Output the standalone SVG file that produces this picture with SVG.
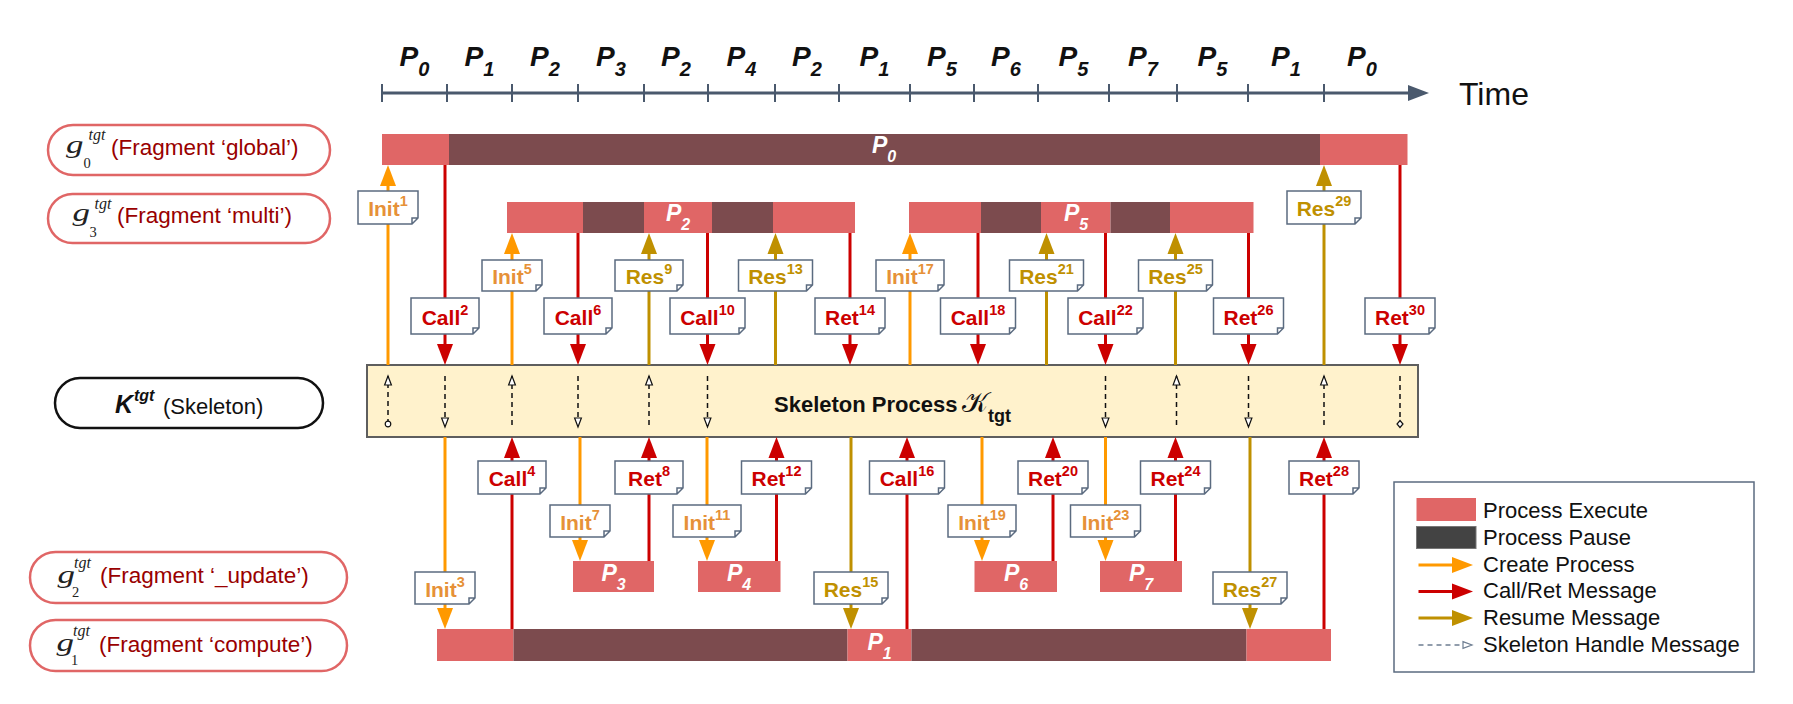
<svg xmlns="http://www.w3.org/2000/svg" width="1793" height="704" viewBox="0 0 1793 704">
<defs>
<style>
text{font-family:"Liberation Sans",Arial,Helvetica,sans-serif}
.exec{fill:#e06666}
.pause{fill:#7c4b4e}
.axis{stroke:#4a596d;stroke-width:3;fill:none}
.tick{stroke:#4a596d;stroke-width:2}
.ptime{font-size:28px;font-weight:bold;font-style:italic;fill:#111;text-anchor:middle}
.ptime .s{font-size:20px}
.pbar{font-size:23px;font-weight:bold;font-style:italic;fill:#fff;text-anchor:middle}
.pbar .s{font-size:16px}
.pill-g{fill:#fff;stroke:#e06666;stroke-width:2.5}
.pill-k{fill:#fff;stroke:#111;stroke-width:2.5}
.gsym{font-family:"Liberation Serif","DejaVu Serif",serif;font-style:italic;fill:#222}
.gsub{font-family:"Liberation Serif","DejaVu Serif",serif;fill:#222}
.frag{font-size:22.5px;fill:#990000}
.skel{fill:#fff2cc;stroke:#5e5e5e;stroke-width:2}
.lbox{fill:#fff;stroke:#5b6b80;stroke-width:1.5}
.lbl{font-size:21px;font-weight:bold;text-anchor:middle}
.lbl .s{font-size:14.5px}
.c-init{fill:#e69138}.c-call{fill:#cc0000}.c-res{fill:#bf9000}
.l-init{stroke:#ff9900;stroke-width:3;fill:none;marker-end:url(#mk-init)}
.l-call{stroke:#cc0000;stroke-width:3;fill:none;marker-end:url(#mk-call)}
.l-res{stroke:#bf9000;stroke-width:3;fill:none;marker-end:url(#mk-res)}
.dash{stroke:#111;stroke-width:1.5;stroke-dasharray:5 4;fill:none}
.leg{font-size:22px;fill:#111}
</style>
<marker id="mk-init" markerUnits="userSpaceOnUse" markerWidth="21" markerHeight="16" refX="0" refY="8" orient="auto" overflow="visible"><path d="M0,0 L21,8 L0,16 Z" fill="#ff9900"/></marker>
<marker id="mk-call" markerUnits="userSpaceOnUse" markerWidth="21" markerHeight="16" refX="0" refY="8" orient="auto" overflow="visible"><path d="M0,0 L21,8 L0,16 Z" fill="#cc0000"/></marker>
<marker id="mk-res" markerUnits="userSpaceOnUse" markerWidth="21" markerHeight="16" refX="0" refY="8" orient="auto" overflow="visible"><path d="M0,0 L21,8 L0,16 Z" fill="#bf9000"/></marker>
<marker id="mk-open" markerUnits="userSpaceOnUse" markerWidth="10" markerHeight="8" refX="9" refY="4" orient="auto" overflow="visible"><path d="M0,0.6 L9,4 L0,7.4 Z" fill="#fff" stroke="#111" stroke-width="1.2"/></marker>
<marker id="mk-dot" markerUnits="userSpaceOnUse" markerWidth="8" markerHeight="8" refX="4" refY="4" overflow="visible"><circle cx="4" cy="4" r="2.8" fill="#fff" stroke="#111" stroke-width="1.2"/></marker>
<marker id="mk-dia" markerUnits="userSpaceOnUse" markerWidth="8" markerHeight="8" refX="4" refY="4" overflow="visible"><path d="M4,0.5 L7,4 L4,7.5 L1,4 Z" fill="#fff" stroke="#111" stroke-width="1.2"/></marker>
<marker id="mk-open-leg" markerUnits="userSpaceOnUse" markerWidth="10" markerHeight="8" refX="9" refY="4" orient="auto" overflow="visible"><path d="M0,0.6 L9,4 L0,7.4 Z" fill="#fff" stroke="#6d7d91" stroke-width="1.2"/></marker>
</defs>

<!-- Time axis -->
<g id="time-axis">
<line class="axis" x1="382" y1="93" x2="1411" y2="93"/>
<polygon points="1408,85 1429,93 1408,101" fill="#4a596d"/>
<g class="tick">
<line x1="382" y1="84" x2="382" y2="102"/><line x1="447" y1="84" x2="447" y2="102"/><line x1="512" y1="84" x2="512" y2="102"/>
<line x1="578" y1="84" x2="578" y2="102"/><line x1="644" y1="84" x2="644" y2="102"/><line x1="708" y1="84" x2="708" y2="102"/>
<line x1="775" y1="84" x2="775" y2="102"/><line x1="839" y1="84" x2="839" y2="102"/><line x1="910" y1="84" x2="910" y2="102"/>
<line x1="974" y1="84" x2="974" y2="102"/><line x1="1038" y1="84" x2="1038" y2="102"/><line x1="1109" y1="84" x2="1109" y2="102"/>
<line x1="1177" y1="84" x2="1177" y2="102"/><line x1="1248" y1="84" x2="1248" y2="102"/><line x1="1324" y1="84" x2="1324" y2="102"/>
</g>
<text class="ptime" x="414.5" y="66">P<tspan class="s" dy="10">0</tspan></text>
<text class="ptime" x="479.5" y="66">P<tspan class="s" dy="10">1</tspan></text>
<text class="ptime" x="545" y="66">P<tspan class="s" dy="10">2</tspan></text>
<text class="ptime" x="611" y="66">P<tspan class="s" dy="10">3</tspan></text>
<text class="ptime" x="676" y="66">P<tspan class="s" dy="10">2</tspan></text>
<text class="ptime" x="741.5" y="66">P<tspan class="s" dy="10">4</tspan></text>
<text class="ptime" x="807" y="66">P<tspan class="s" dy="10">2</tspan></text>
<text class="ptime" x="874.5" y="66">P<tspan class="s" dy="10">1</tspan></text>
<text class="ptime" x="942" y="66">P<tspan class="s" dy="10">5</tspan></text>
<text class="ptime" x="1006" y="66">P<tspan class="s" dy="10">6</tspan></text>
<text class="ptime" x="1073.5" y="66">P<tspan class="s" dy="10">5</tspan></text>
<text class="ptime" x="1143" y="66">P<tspan class="s" dy="10">7</tspan></text>
<text class="ptime" x="1212.5" y="66">P<tspan class="s" dy="10">5</tspan></text>
<text class="ptime" x="1286" y="66">P<tspan class="s" dy="10">1</tspan></text>
<text class="ptime" x="1362" y="66">P<tspan class="s" dy="10">0</tspan></text>
<text x="1459" y="105" font-size="32" fill="#111">Time</text>
</g>

<!-- Fragment labels -->
<g id="frag-g0">
<rect class="pill-g" x="48" y="125" width="282" height="50" rx="25"/>
<text class="gsym" transform="translate(66 152.5) scale(1.4 1)" font-size="25">g</text>
<text class="gsym" x="88.5" y="140" font-size="16">tgt</text>
<text class="gsub" x="83.5" y="168" font-size="14.5">0</text>
<text class="frag" x="111" y="155">(Fragment ‘global’)</text>
</g>
<g id="frag-g3">
<rect class="pill-g" x="48" y="194" width="282" height="49" rx="24.5"/>
<text class="gsym" transform="translate(72.5 221) scale(1.4 1)" font-size="25">g</text>
<text class="gsym" x="94.5" y="208.5" font-size="16">tgt</text>
<text class="gsub" x="89.5" y="236.5" font-size="14.5">3</text>
<text class="frag" x="117" y="223">(Fragment ‘multi’)</text>
</g>
<g id="frag-g2">
<rect class="pill-g" x="30" y="552" width="317" height="51" rx="25.5"/>
<text class="gsym" transform="translate(57.5 582.5) scale(1.4 1)" font-size="25">g</text>
<text class="gsym" x="74" y="568" font-size="16">tgt</text>
<text class="gsub" x="72" y="596.5" font-size="14.5">2</text>
<text class="frag" x="100" y="583">(Fragment ‘_update’)</text>
</g>
<g id="frag-g1">
<rect class="pill-g" x="30" y="620" width="317" height="51" rx="25.5"/>
<text class="gsym" transform="translate(56.5 650.5) scale(1.4 1)" font-size="25">g</text>
<text class="gsym" x="73" y="636" font-size="16">tgt</text>
<text class="gsub" x="71" y="664.5" font-size="14.5">1</text>
<text class="frag" x="99" y="651.5">(Fragment ‘compute’)</text>
</g>
<g id="skeleton-label">
<rect class="pill-k" x="55" y="378" width="268" height="50" rx="25"/>
<text x="115" y="413" font-size="25" font-weight="bold" font-style="italic" fill="#111">K</text>
<text x="134" y="401" font-size="16" font-weight="bold" font-style="italic" fill="#111">tgt</text>
<text x="163" y="413.5" font-size="22" fill="#111">(Skeleton)</text>
</g>

<!-- Process bars -->
<g id="bar-g0">
<rect class="exec" x="382" y="134" width="67" height="31"/>
<rect class="pause" x="449" y="134" width="871" height="31"/>
<rect class="exec" x="1320" y="134" width="87.5" height="31"/>
<text class="pbar" x="884" y="153">P<tspan class="s" dy="9">0</tspan></text>
</g>
<g id="bar-g3a">
<rect class="exec" x="507" y="202" width="76" height="31"/>
<rect class="pause" x="583" y="202" width="61" height="31"/>
<rect class="exec" x="644" y="202" width="68" height="31"/>
<rect class="pause" x="712" y="202" width="61" height="31"/>
<rect class="exec" x="773" y="202" width="82" height="31"/>
<text class="pbar" x="678" y="221">P<tspan class="s" dy="9">2</tspan></text>
</g>
<g id="bar-g3b">
<rect class="exec" x="909" y="202" width="72" height="31"/>
<rect class="pause" x="981" y="202" width="60" height="31"/>
<rect class="exec" x="1041" y="202" width="69.5" height="31"/>
<rect class="pause" x="1110.5" y="202" width="59.5" height="31"/>
<rect class="exec" x="1170" y="202" width="83.5" height="31"/>
<text class="pbar" x="1076" y="221">P<tspan class="s" dy="9">5</tspan></text>
</g>
<g id="bar-g1">
<rect class="exec" x="437" y="629" width="76.5" height="32"/>
<rect class="pause" x="513.5" y="629" width="334" height="32"/>
<rect class="exec" x="847.5" y="629" width="64" height="32"/>
<rect class="pause" x="911.5" y="629" width="335" height="32"/>
<rect class="exec" x="1246.5" y="629" width="84.5" height="32"/>
<text class="pbar" x="879.5" y="650">P<tspan class="s" dy="9">1</tspan></text>
</g>
<g id="bar-p3"><rect class="exec" x="573" y="561" width="81" height="31"/><text class="pbar" x="613.5" y="581">P<tspan class="s" dy="9">3</tspan></text></g>
<g id="bar-p4"><rect class="exec" x="698" y="561" width="82.5" height="31"/><text class="pbar" x="739" y="581">P<tspan class="s" dy="9">4</tspan></text></g>
<g id="bar-p6"><rect class="exec" x="974.5" y="561" width="82.5" height="31"/><text class="pbar" x="1016" y="581">P<tspan class="s" dy="9">6</tspan></text></g>
<g id="bar-p7"><rect class="exec" x="1100" y="561" width="82" height="31"/><text class="pbar" x="1141" y="581">P<tspan class="s" dy="9">7</tspan></text></g>

<!-- Skeleton process -->
<g id="skeleton">
<rect class="skel" x="367" y="365" width="1051" height="72"/>
<text x="774" y="411.5" font-size="22" font-weight="bold" fill="#111">Skeleton Process</text>
<text x="962" y="411.5" font-size="28" fill="#111" font-family="'DejaVu Serif','DejaVu Sans',serif">𝒦</text>
<text x="988" y="422" font-size="18" font-weight="bold" fill="#111">tgt</text>
</g>

<!-- Connectors -->
<g id="connectors">
<g id="skeleton-handles" class="dash">
<line x1="388" y1="424" x2="388" y2="376" marker-start="url(#mk-dot)" marker-end="url(#mk-open)"/>
<line x1="445" y1="376" x2="445" y2="427" marker-end="url(#mk-open)"/>
<line x1="512" y1="425" x2="512" y2="376" marker-end="url(#mk-open)"/>
<line x1="578" y1="376" x2="578" y2="427" marker-end="url(#mk-open)"/>
<line x1="649" y1="425" x2="649" y2="376" marker-end="url(#mk-open)"/>
<line x1="707.5" y1="376" x2="707.5" y2="427" marker-end="url(#mk-open)"/>
<line x1="1105.5" y1="376" x2="1105.5" y2="427" marker-end="url(#mk-open)"/>
<line x1="1176.5" y1="425" x2="1176.5" y2="376" marker-end="url(#mk-open)"/>
<line x1="1248.5" y1="376" x2="1248.5" y2="427" marker-end="url(#mk-open)"/>
<line x1="1324" y1="425" x2="1324" y2="376" marker-end="url(#mk-open)"/>
<line x1="1400" y1="376" x2="1400" y2="424" marker-end="url(#mk-dia)"/>
</g>
<g id="create-msgs">
<line class="l-init" x1="388" y1="365" x2="388" y2="186"/>
<line class="l-init" x1="512" y1="365" x2="512" y2="254"/>
<line class="l-init" x1="910" y1="365" x2="910" y2="254"/>
<line class="l-init" x1="445" y1="437" x2="445" y2="608"/>
<line class="l-init" x1="580" y1="437" x2="580" y2="540"/>
<line class="l-init" x1="707" y1="437" x2="707" y2="540"/>
<line class="l-init" x1="982" y1="437" x2="982" y2="540"/>
<line class="l-init" x1="1105.5" y1="437" x2="1105.5" y2="540"/>
</g>
<g id="callret-msgs">
<line class="l-call" x1="445" y1="165" x2="445" y2="344"/>
<line class="l-call" x1="578" y1="233" x2="578" y2="344"/>
<line class="l-call" x1="707.5" y1="233" x2="707.5" y2="344"/>
<line class="l-call" x1="850" y1="233" x2="850" y2="344"/>
<line class="l-call" x1="978" y1="233" x2="978" y2="344"/>
<line class="l-call" x1="1105.5" y1="233" x2="1105.5" y2="344"/>
<line class="l-call" x1="1248.5" y1="233" x2="1248.5" y2="344"/>
<line class="l-call" x1="1400" y1="165" x2="1400" y2="344"/>
<line class="l-call" x1="512" y1="629" x2="512" y2="458"/>
<line class="l-call" x1="649" y1="561" x2="649" y2="458"/>
<line class="l-call" x1="776.5" y1="561" x2="776.5" y2="458"/>
<line class="l-call" x1="907" y1="629" x2="907" y2="458"/>
<line class="l-call" x1="1053" y1="561" x2="1053" y2="458"/>
<line class="l-call" x1="1175.5" y1="561" x2="1175.5" y2="458"/>
<line class="l-call" x1="1324" y1="629" x2="1324" y2="458"/>
</g>
<g id="resume-msgs">
<line class="l-res" x1="649" y1="365" x2="649" y2="254"/>
<line class="l-res" x1="775.5" y1="365" x2="775.5" y2="254"/>
<line class="l-res" x1="1046.5" y1="365" x2="1046.5" y2="254"/>
<line class="l-res" x1="1175.5" y1="365" x2="1175.5" y2="254"/>
<line class="l-res" x1="1324" y1="365" x2="1324" y2="186"/>
<line class="l-res" x1="851" y1="437" x2="851" y2="608"/>
<line class="l-res" x1="1250" y1="437" x2="1250" y2="608"/>
</g>
</g>

<!-- Message labels -->
<g id="msg-labels">
<g id="m1"><path class="lbox" d="M358 191H418V218L412 224H358Z M418 218H412V224"/><text class="lbl c-init" x="388" y="216">Init<tspan class="s" dy="-10">1</tspan></text></g>
<g id="m2"><path class="lbox" d="M411 298H479V328L473 334H411Z M479 328H473V334"/><text class="lbl c-call" x="445" y="324.5">Call<tspan class="s" dy="-10">2</tspan></text></g>
<g id="m3"><path class="lbox" d="M415 572H475V598L469 604H415Z M475 598H469V604"/><text class="lbl c-init" x="445" y="596.5">Init<tspan class="s" dy="-10">3</tspan></text></g>
<g id="m4"><path class="lbox" d="M478 461H546V488L540 494H478Z M546 488H540V494"/><text class="lbl c-call" x="512" y="486">Call<tspan class="s" dy="-10">4</tspan></text></g>
<g id="m5"><path class="lbox" d="M482 260H542V285L536 291H482Z M542 285H536V291"/><text class="lbl c-init" x="512" y="284">Init<tspan class="s" dy="-10">5</tspan></text></g>
<g id="m6"><path class="lbox" d="M544 298H612V328L606 334H544Z M612 328H606V334"/><text class="lbl c-call" x="578" y="324.5">Call<tspan class="s" dy="-10">6</tspan></text></g>
<g id="m7"><path class="lbox" d="M550 505H610V531L604 537H550Z M610 531H604V537"/><text class="lbl c-init" x="580" y="529.5">Init<tspan class="s" dy="-10">7</tspan></text></g>
<g id="m8"><path class="lbox" d="M615 461H683V488L677 494H615Z M683 488H677V494"/><text class="lbl c-call" x="649" y="486">Ret<tspan class="s" dy="-10">8</tspan></text></g>
<g id="m9"><path class="lbox" d="M615 260H683V285L677 291H615Z M683 285H677V291"/><text class="lbl c-res" x="649" y="284">Res<tspan class="s" dy="-10">9</tspan></text></g>
<g id="m10"><path class="lbox" d="M670 298H745V328L739 334H670Z M745 328H739V334"/><text class="lbl c-call" x="707.5" y="324.5">Call<tspan class="s" dy="-10">10</tspan></text></g>
<g id="m11"><path class="lbox" d="M673 505H741V531L735 537H673Z M741 531H735V537"/><text class="lbl c-init" x="707" y="529.5">Init<tspan class="s" dy="-10">11</tspan></text></g>
<g id="m12"><path class="lbox" d="M741.5 461H811.5V488L805.5 494H741.5Z M811.5 488H805.5V494"/><text class="lbl c-call" x="776.5" y="486">Ret<tspan class="s" dy="-10">12</tspan></text></g>
<g id="m13"><path class="lbox" d="M738.5 260H812.5V285L806.5 291H738.5Z M812.5 285H806.5V291"/><text class="lbl c-res" x="775.5" y="284">Res<tspan class="s" dy="-10">13</tspan></text></g>
<g id="m14"><path class="lbox" d="M815 298H885V328L879 334H815Z M885 328H879V334"/><text class="lbl c-call" x="850" y="324.5">Ret<tspan class="s" dy="-10">14</tspan></text></g>
<g id="m15"><path class="lbox" d="M814 572H888V598L882 604H814Z M888 598H882V604"/><text class="lbl c-res" x="851" y="596.5">Res<tspan class="s" dy="-10">15</tspan></text></g>
<g id="m16"><path class="lbox" d="M869.5 461H944.5V488L938.5 494H869.5Z M944.5 488H938.5V494"/><text class="lbl c-call" x="907" y="486">Call<tspan class="s" dy="-10">16</tspan></text></g>
<g id="m17"><path class="lbox" d="M876 260H944V285L938 291H876Z M944 285H938V291"/><text class="lbl c-init" x="910" y="284">Init<tspan class="s" dy="-10">17</tspan></text></g>
<g id="m18"><path class="lbox" d="M940.5 298H1015.5V328L1009.5 334H940.5Z M1015.5 328H1009.5V334"/><text class="lbl c-call" x="978" y="324.5">Call<tspan class="s" dy="-10">18</tspan></text></g>
<g id="m19"><path class="lbox" d="M948 505H1016V531L1010 537H948Z M1016 531H1010V537"/><text class="lbl c-init" x="982" y="529.5">Init<tspan class="s" dy="-10">19</tspan></text></g>
<g id="m20"><path class="lbox" d="M1018 461H1088V488L1082 494H1018Z M1088 488H1082V494"/><text class="lbl c-call" x="1053" y="486">Ret<tspan class="s" dy="-10">20</tspan></text></g>
<g id="m21"><path class="lbox" d="M1009.5 260H1083.5V285L1077.5 291H1009.5Z M1083.5 285H1077.5V291"/><text class="lbl c-res" x="1046.5" y="284">Res<tspan class="s" dy="-10">21</tspan></text></g>
<g id="m22"><path class="lbox" d="M1068 298H1143V328L1137 334H1068Z M1143 328H1137V334"/><text class="lbl c-call" x="1105.5" y="324.5">Call<tspan class="s" dy="-10">22</tspan></text></g>
<g id="m23"><path class="lbox" d="M1070.5 505H1140.5V531L1134.5 537H1070.5Z M1140.5 531H1134.5V537"/><text class="lbl c-init" x="1105.5" y="529.5">Init<tspan class="s" dy="-10">23</tspan></text></g>
<g id="m24"><path class="lbox" d="M1140.5 461H1210.5V488L1204.5 494H1140.5Z M1210.5 488H1204.5V494"/><text class="lbl c-call" x="1175.5" y="486">Ret<tspan class="s" dy="-10">24</tspan></text></g>
<g id="m25"><path class="lbox" d="M1138.5 260H1212.5V285L1206.5 291H1138.5Z M1212.5 285H1206.5V291"/><text class="lbl c-res" x="1175.5" y="284">Res<tspan class="s" dy="-10">25</tspan></text></g>
<g id="m26"><path class="lbox" d="M1213.5 298H1283.5V328L1277.5 334H1213.5Z M1283.5 328H1277.5V334"/><text class="lbl c-call" x="1248.5" y="324.5">Ret<tspan class="s" dy="-10">26</tspan></text></g>
<g id="m27"><path class="lbox" d="M1213 572H1287V598L1281 604H1213Z M1287 598H1281V604"/><text class="lbl c-res" x="1250" y="596.5">Res<tspan class="s" dy="-10">27</tspan></text></g>
<g id="m28"><path class="lbox" d="M1289 461H1359V488L1353 494H1289Z M1359 488H1353V494"/><text class="lbl c-call" x="1324" y="486">Ret<tspan class="s" dy="-10">28</tspan></text></g>
<g id="m29"><path class="lbox" d="M1287 191H1361V218L1355 224H1287Z M1361 218H1355V224"/><text class="lbl c-res" x="1324" y="216">Res<tspan class="s" dy="-10">29</tspan></text></g>
<g id="m30"><path class="lbox" d="M1365 298H1435V328L1429 334H1365Z M1435 328H1429V334"/><text class="lbl c-call" x="1400" y="324.5">Ret<tspan class="s" dy="-10">30</tspan></text></g>
</g>

<!-- Legend -->
<g id="legend">
<rect x="1394" y="482" width="360" height="190" fill="#fff" stroke="#5b6b80" stroke-width="1.5"/>
<rect class="exec" x="1416.5" y="498" width="59.5" height="23"/>
<rect x="1416.5" y="526.5" width="59.5" height="22" fill="#434343" stroke="#777" stroke-width="1"/>
<line class="l-init" x1="1418.5" y1="565" x2="1452" y2="565"/>
<line class="l-call" x1="1418.5" y1="591.5" x2="1452" y2="591.5"/>
<line class="l-res" x1="1418.5" y1="618" x2="1452" y2="618"/>
<line x1="1418.5" y1="645" x2="1472" y2="645" stroke="#6d7d91" stroke-width="1.5" stroke-dasharray="5 4" marker-end="url(#mk-open-leg)"/>
<text class="leg" x="1483" y="518">Process Execute</text>
<text class="leg" x="1483" y="545">Process Pause</text>
<text class="leg" x="1483" y="571.5">Create Process</text>
<text class="leg" x="1483" y="598">Call/Ret Message</text>
<text class="leg" x="1483" y="625">Resume Message</text>
<text class="leg" x="1483" y="652">Skeleton Handle Message</text>
</g>
</svg>
